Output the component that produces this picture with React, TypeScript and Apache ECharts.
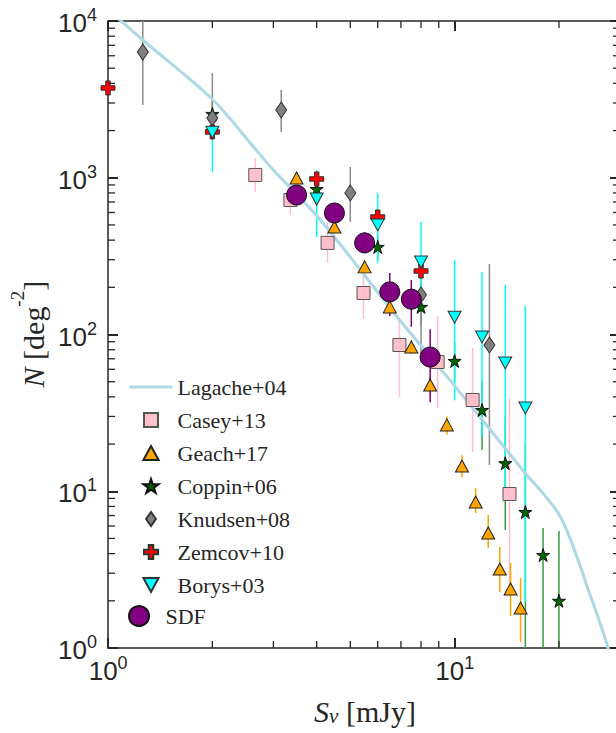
import React, { useEffect, useRef } from 'react';
import * as echarts from 'echarts';

// ---------------- data ----------------
const lagacheX = [1.0, 1.26, 2.01, 2.63, 3.0, 4.1, 6.98, 10, 15.7, 20.2, 24.7, 27.7, 28.3];
const lagacheY = [11900, 7565, 3133, 1571, 1120, 538, 122, 47, 13.7, 6.85, 2.12, 1.0, 0.7];

const caseyX = [2.66, 3.36, 4.3, 5.46, 6.93, 8.93, 11.27, 14.4];
const caseyY = [1042, 721, 384, 184, 85.7, 66.8, 38.2, 9.6];
const caseyLo = [811, 578, 286, 126, 40, 34, 17.8, 2.4];
const caseyHi = [1336, 900, 520, 240, 124, 131, 82, 39];

const geachX = [3.5, 4.5, 5.5, 6.5, 7.5, 8.5, 9.5, 10.5, 11.5, 12.5, 13.5, 14.5, 15.5];
const geachY = [996, 485, 270, 150, 83.2, 47.6, 26.5, 14.5, 8.54, 5.42, 3.19, 2.38, 1.8];
const geachLo = [920, 445, 245, 135, 75, 42, 23, 12.3, 7.26, 4.35, 2.28, 1.6, 1.09];
const geachHi = [1080, 530, 300, 167, 92, 54, 30, 17, 10.5, 7.06, 4.41, 3.49, 2.8];

const coppinX = [2, 4, 6, 8, 10, 12, 14, 16, 18, 20];
const coppinY = [2553, 847, 362, 150, 67.8, 33.0, 15.1, 7.37, 3.92, 2.0];
const coppinLo = [2000, 700, 300, 115, 50, 18.3, 5.66, 0.5, 0.5, 0.5];
const coppinHi = [3200, 1000, 430, 190, 90, 50, 30, 20, 5.83, 5.58];

const knudsenX = [1.26, 2, 3.16, 5.0, 8.0, 12.6];
const knudsenY = [6340, 2405, 2705, 800, 179, 85.7];
const knudsenLo = [2911, 1800, 1960, 522, 66, 14.7];
const knudsenHi = [15000, 4660, 3630, 1172, 230, 282];

const zemcovX = [1.0, 2, 4, 6, 8];
const zemcovY = [3740, 1960, 982, 562, 254];
const zemcovLo = [3500, 1850, 930, 530, 235];
const zemcovHi = [4000, 2080, 1040, 600, 275];

const borysX = [2, 4, 6, 8, 10, 12, 14, 16];
const borysY = [1950, 731, 500, 290, 129, 96.4, 65.8, 34.0];
const borysLo = [1088, 419, 286, 190, 38, 22.2, 9.6, 1.97];
const borysHi = [2700, 1120, 800, 522, 299, 250, 207, 152];

const sdfX = [3.5, 4.5, 5.5, 6.5, 7.5, 8.5];
const sdfY = [776, 596, 384, 187, 168, 71.8];
const sdfLo = [690, 520, 330, 131, 112, 37];
const sdfHi = [870, 690, 450, 247, 223, 108];

const X_MIN = 1;
const X_MAX = 30;
const Y_MIN = 1;
const Y_MAX = 10000;

const legendMain = ['Lagache+04', 'Casey+13', 'Geach+17', 'Coppin+06', 'Knudsen+08', 'Zemcov+10', 'Borys+03'];
const legendSdf = ['SDF'];

// ---------------- styling ----------------
const AXIS_COLOR = '#262626';
const CURVE_COLOR = '#add8e6';
const SANS = '"Liberation Sans", Arial, Helvetica, sans-serif';
const SERIF = '"Liberation Serif", "Times New Roman", Times, serif';
const STAR = 'path://M50,0L61.8,35.4L100,35.4L69.1,57.3L80.9,92.7L50,70.8L19.1,92.7L30.9,57.3L0,35.4L38.2,35.4Z';
const CROSS = 'path://M34,0H66V34H100V66H66V100H34V66H0V34H34Z';
const DIAMOND = 'path://M35,0L70,50L35,100L0,50Z';
const SQUARE = 'path://M0,0H100V100H0Z';
const TRI_UP = 'path://M50,0L100,92L0,92Z';
const TRI_DOWN = 'path://M0,0L100,0L50,92Z';

const pairs = (xs: number[], ys: number[]) => xs.map((x, i) => [x, ys[i]]);
const errs = (xs: number[], lo: number[], hi: number[]) => xs.map((x, i) => [x, lo[i], hi[i]]);

function powLabel(v: number) {
  const e = Math.log10(v);
  const r = Math.round(e);
  if (Math.abs(e - r) > 1e-6) return '';
  return `{z| }{b|10}{s|${r}}`;
}

const tickRich = {
  z: { fontSize: 1, lineHeight: 30, fontFamily: SANS },
  b: { fontSize: 26, lineHeight: 20, verticalAlign: 'bottom', fontFamily: SANS, color: AXIS_COLOR },
  s: { fontSize: 18, lineHeight: 20, verticalAlign: 'top', fontFamily: SANS, color: AXIS_COLOR },
};

function makeAxis(position: string, showLabel: boolean, min: number, max: number, margin: number) {
  return {
    type: 'log',
    logBase: 10,
    min,
    max,
    position,
    axisLine: { show: true, onZero: false, lineStyle: { color: AXIS_COLOR, width: 1.5 } },
    axisTick: { show: true, inside: true, length: 10, lineStyle: { color: AXIS_COLOR, width: 2 } },
    minorTick: { show: false },
    splitLine: { show: false },
    minorSplitLine: { show: false },
    axisLabel: {
      show: showLabel,
      margin,
      formatter: powLabel,
      rich: tickRich,
      color: AXIS_COLOR,
      fontFamily: SANS,
    },
  };
}

function errorSeries(name: string, xs: number[], lo: number[], hi: number[], color: string) {
  return {
    type: 'custom',
    name,
    z: 1,
    clip: true,
    silent: true,
    data: errs(xs, lo, hi),
    renderItem: (_p: any, api: any) => {
      const x = api.value(0);
      const a = api.coord([x, api.value(1)]);
      const b = api.coord([x, api.value(2)]);
      return {
        type: 'line',
        shape: { x1: a[0], y1: a[1], x2: b[0], y2: b[1] },
        style: { stroke: color, lineWidth: 1.5 },
      };
    },
  };
}

function scatterSeries(name: string, xs: number[], ys: number[], symbol: string, size: any, fill: string, border: string) {
  return {
    type: 'scatter',
    name,
    z: 3,
    symbol,
    symbolSize: size,
    symbolKeepAspect: false,
    data: pairs(xs, ys),
    itemStyle: { color: fill, borderColor: border, borderWidth: 1, opacity: 1 },
    emphasis: { disabled: true },
  };
}

// minor tick positions (axis decoration)
const xMinor: number[] = [];
for (let e = 0; e < 2; e++) for (let m = 2; m <= 9; m++) { const v = m * Math.pow(10, e); if (v < X_MAX) xMinor.push(v); }
const yMinor: number[] = [];
for (let e = 0; e < 4; e++) for (let m = 2; m <= 9; m++) yMinor.push(m * Math.pow(10, e));

const minorData = [
  ...xMinor.map((v) => [v, 1]),
  ...xMinor.map((v) => [v, 2]),
  ...yMinor.map((v) => [v, 3]),
  ...yMinor.map((v) => [v, 4]),
];

const legendText = { fontFamily: SERIF, fontSize: 22, lineHeight: 22, color: AXIS_COLOR };

export default function App() {
  const ref = useRef<HTMLDivElement>(null);

  useEffect(() => {
    document.body.style.margin = '0';
    if (!ref.current) return;
    const chart = echarts.init(ref.current, null, { renderer: 'svg' });

    const option: any = {
      animation: false,
      backgroundColor: '#ffffff',
      grid: { left: 108, top: 21, width: 512, height: 627, containLabel: false, outerBoundsMode: 'none' },
      xAxis: [makeAxis('bottom', true, X_MIN, X_MAX, 6), makeAxis('top', false, X_MIN, X_MAX, 6)],
      yAxis: [makeAxis('left', true, Y_MIN, Y_MAX, 11), makeAxis('right', false, Y_MIN, Y_MAX, 11)],
      legend: [
        {
          data: legendMain.map((n, i) =>
            i === 0
              ? {
                  name: n,
                  itemStyle: { color: 'rgba(0,0,0,0)', borderWidth: 0, opacity: 0 },
                  lineStyle: { color: CURVE_COLOR, width: 3 },
                }
              : { name: n }
          ),
          orient: 'vertical',
          left: 128,
          top: 376,
          padding: 0,
          itemWidth: 43,
          itemHeight: 14,
          itemGap: 11,
          symbolKeepAspect: true,
          selectedMode: false,
          textStyle: legendText,
        },
        {
          data: legendSdf,
          orient: 'vertical',
          left: 128,
          top: 605,
          padding: 0,
          itemWidth: 43,
          itemHeight: 20,
          itemGap: 11,
          symbolKeepAspect: true,
          selectedMode: false,
          textStyle: legendText,
        },
      ],
      graphic: [
        {
          type: 'text',
          x: 365,
          y: 711,
          silent: true,
          style: {
            text: '{i|S}{u|ν}{n| [mJy]}',
            align: 'center',
            verticalAlign: 'middle',
            fill: AXIS_COLOR,
            rich: {
              i: { fontFamily: SERIF, fontStyle: 'italic', fontSize: 30, lineHeight: 30, verticalAlign: 'top', fill: AXIS_COLOR },
              u: { fontFamily: SERIF, fontStyle: 'italic', fontSize: 21, lineHeight: 18, verticalAlign: 'bottom', fill: AXIS_COLOR },
              n: { fontFamily: SERIF, fontSize: 30, lineHeight: 30, verticalAlign: 'top', fill: AXIS_COLOR },
            },
          },
        },
        {
          type: 'text',
          x: 28,
          y: 334,
          rotation: Math.PI / 2,
          silent: true,
          style: {
            text: '{i|N}{n| [deg}{p|-2}{n|]}{z| }',
            align: 'center',
            verticalAlign: 'middle',
            fill: AXIS_COLOR,
            rich: {
              i: { fontFamily: SERIF, fontStyle: 'italic', fontSize: 30, lineHeight: 30, verticalAlign: 'bottom', fill: AXIS_COLOR },
              n: { fontFamily: SERIF, fontSize: 30, lineHeight: 30, verticalAlign: 'bottom', fill: AXIS_COLOR },
              p: { fontFamily: SERIF, fontSize: 19, lineHeight: 17, verticalAlign: 'top', fill: AXIS_COLOR },
              z: { fontFamily: SERIF, fontSize: 1, lineHeight: 40 },
            },
          },
        },
      ],
      series: [
        errorSeries('Casey+13 err', caseyX, caseyLo, caseyHi, '#ffc0cb'),
        errorSeries('Geach+17 err', geachX, geachLo, geachHi, '#ffa500'),
        errorSeries('Coppin+06 err', coppinX, coppinLo, coppinHi, '#3c9a3c'),
        errorSeries('Knudsen+08 err', knudsenX, knudsenLo, knudsenHi, '#8c8c8c'),
        errorSeries('Zemcov+10 err', zemcovX, zemcovLo, zemcovHi, '#ff0000'),
        errorSeries('Borys+03 err', borysX, borysLo, borysHi, '#00ffff'),
        errorSeries('SDF err', sdfX, sdfLo, sdfHi, '#800080'),
        {
          type: 'line',
          name: 'Lagache+04',
          z: 2,
          data: pairs(lagacheX, lagacheY),
          symbol: 'none',
          smooth: 0.3,
          clip: true,
          lineStyle: { color: CURVE_COLOR, width: 3 },
          itemStyle: { color: CURVE_COLOR },
          emphasis: { disabled: true },
        },
        scatterSeries('Casey+13', caseyX, caseyY, SQUARE, 13, '#ffc0cb', '#555555'),
        scatterSeries('Geach+17', geachX, geachY, TRI_UP, [13, 12], '#ffa500', '#222222'),
        scatterSeries('Coppin+06', coppinX, coppinY, STAR, 13, '#006400', '#111111'),
        scatterSeries('Knudsen+08', knudsenX, knudsenY, DIAMOND, [11, 16], '#808080', '#333333'),
        scatterSeries('Zemcov+10', zemcovX, zemcovY, CROSS, 14, '#ff0000', '#333333'),
        scatterSeries('Borys+03', borysX, borysY, TRI_DOWN, [13, 12], '#00ffff', '#333333'),
        scatterSeries('SDF', sdfX, sdfY, 'circle', 20, '#800080', '#111111'),
        {
          type: 'custom',
          name: 'minor ticks',
          z: 4,
          silent: true,
          data: minorData,
          renderItem: (_p: any, api: any) => {
            const v = api.value(0);
            const side = api.value(1);
            let p: number[];
            let d: number[];
            if (side === 1) { p = api.coord([v, Y_MIN]); d = [0, -7]; }
            else if (side === 2) { p = api.coord([v, Y_MAX]); d = [0, 7]; }
            else if (side === 3) { p = api.coord([X_MIN, v]); d = [7, 0]; }
            else { p = api.coord([X_MAX, v]); d = [-7, 0]; }
            return {
              type: 'line',
              shape: { x1: p[0], y1: p[1], x2: p[0] + d[0], y2: p[1] + d[1] },
              style: { stroke: AXIS_COLOR, lineWidth: 1.3 },
            };
          },
        },
      ],
    };

    chart.setOption(option);
    return () => chart.dispose();
  }, []);

  return (
    <div
      ref={ref}
      style={{ position: 'fixed', left: 0, top: 0, width: 616, height: 733, background: '#ffffff' }}
    />
  );
}
